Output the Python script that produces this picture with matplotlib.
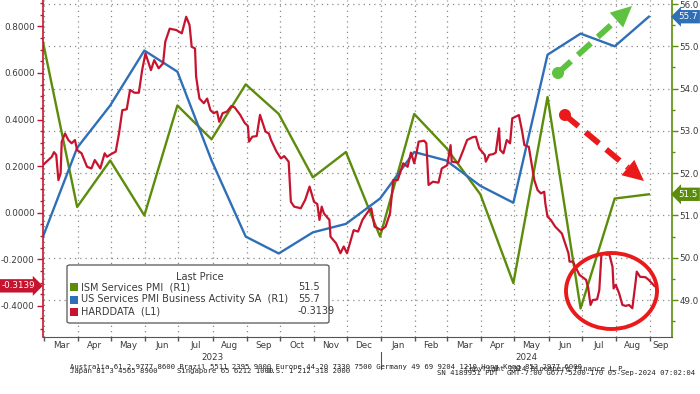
import matplotlib
matplotlib.use("Agg")
import matplotlib.pyplot as plt
import matplotlib.dates as mdates
import matplotlib.ticker as mticker
from matplotlib.patches import Ellipse, Polygon, FancyBboxPatch, Rectangle
from matplotlib.lines import Line2D
import numpy as np
import pandas as pd

plt.rcParams['font.family'] = ['DejaVu Sans']

# ---------------- data ----------------
pmi_dates = ['2023-02-28', '2023-03-31', '2023-04-30', '2023-05-31', '2023-06-30',
             '2023-07-31', '2023-08-31', '2023-09-30', '2023-10-31', '2023-11-30',
             '2023-12-31', '2024-01-31', '2024-02-29', '2024-03-31', '2024-04-30',
             '2024-05-31', '2024-06-30', '2024-07-31', '2024-08-31']
ism_services_pmi = [55.1, 51.2, 52.3, 51.0, 53.6, 52.8, 54.1, 53.4, 51.9, 52.5,
                    50.5, 53.4, 52.6, 51.5, 49.4, 53.8, 48.8, 51.4, 51.5]
us_services_pmi = [50.5, 52.6, 53.6, 54.9, 54.4, 52.3, 50.5, 50.1, 50.6, 50.8,
                   51.4, 52.5, 52.3, 51.7, 51.3, 54.8, 55.3, 55.0, 55.7]

harddata_dates = [
    '2023-02-28', '2023-03-08', '2023-03-10', '2023-03-12', '2023-03-14', '2023-03-16',
    '2023-03-17', '2023-03-20', '2023-03-23', '2023-03-26', '2023-03-29', '2023-03-31',
    '2023-04-04', '2023-04-09', '2023-04-13', '2023-04-16', '2023-04-21', '2023-04-25',
    '2023-04-27', '2023-05-01', '2023-05-05', '2023-05-08', '2023-05-11', '2023-05-15',
    '2023-05-18', '2023-05-22', '2023-05-26', '2023-05-29', '2023-06-01', '2023-06-06',
    '2023-06-09', '2023-06-13', '2023-06-17', '2023-06-19', '2023-06-23', '2023-06-29',
    '2023-07-04', '2023-07-08', '2023-07-11', '2023-07-13', '2023-07-16', '2023-07-17',
    '2023-07-20', '2023-07-24', '2023-07-27', '2023-07-30', '2023-08-02', '2023-08-05',
    '2023-08-07', '2023-08-10', '2023-08-14', '2023-08-18', '2023-08-21', '2023-08-26',
    '2023-08-30', '2023-09-02', '2023-09-03', '2023-09-06', '2023-09-10', '2023-09-13',
    '2023-09-18', '2023-09-21', '2023-09-23', '2023-09-28', '2023-10-02', '2023-10-05',
    '2023-10-09', '2023-10-11', '2023-10-14', '2023-10-20', '2023-10-24', '2023-10-28',
    '2023-11-01', '2023-11-04', '2023-11-06', '2023-11-08', '2023-11-10', '2023-11-15',
    '2023-11-16', '2023-11-21', '2023-11-25', '2023-11-28', '2023-12-01', '2023-12-07',
    '2023-12-11', '2023-12-15', '2023-12-20', '2023-12-23', '2023-12-26', '2024-01-01',
    '2024-01-05', '2024-01-09', '2024-01-12', '2024-01-16', '2024-01-21', '2024-01-25',
    '2024-01-28', '2024-01-31', '2024-02-02', '2024-02-04', '2024-02-09', '2024-02-11',
    '2024-02-13', '2024-02-17', '2024-02-22', '2024-02-25', '2024-03-01', '2024-03-04',
    '2024-03-05', '2024-03-11', '2024-03-15', '2024-03-19', '2024-03-24', '2024-03-27',
    '2024-03-30', '2024-04-04', '2024-04-05', '2024-04-08', '2024-04-12', '2024-04-14',
    '2024-04-17', '2024-04-18', '2024-04-21', '2024-04-24', '2024-04-27', '2024-04-29',
    '2024-05-02', '2024-05-05', '2024-05-08', '2024-05-10', '2024-05-14', '2024-05-17',
    '2024-05-19', '2024-05-22', '2024-05-25', '2024-05-28', '2024-05-29', '2024-05-31',
    '2024-06-03', '2024-06-07', '2024-06-13', '2024-06-16', '2024-06-19', '2024-06-20',
    '2024-06-23', '2024-06-29', '2024-07-05', '2024-07-07', '2024-07-09', '2024-07-11',
    '2024-07-15', '2024-07-17', '2024-07-19', '2024-07-21', '2024-07-24', '2024-07-26',
    '2024-07-29', '2024-07-30', '2024-08-01', '2024-08-04', '2024-08-07', '2024-08-10',
    '2024-08-13', '2024-08-16', '2024-08-19', '2024-08-20', '2024-08-23', '2024-08-28',
    '2024-08-31', '2024-09-05']
harddata_values = [
    0.205, 0.240, 0.260, 0.248, 0.140, 0.169,
    0.305, 0.340, 0.312, 0.298, 0.312, 0.269,
    0.255, 0.197, 0.190, 0.226, 0.190, 0.255,
    0.240, 0.252, 0.262, 0.340, 0.440, 0.444,
    0.527, 0.515, 0.515, 0.612, 0.684, 0.612,
    0.655, 0.620, 0.641, 0.734, 0.790, 0.784,
    0.770, 0.841, 0.806, 0.712, 0.705, 0.584,
    0.490, 0.470, 0.490, 0.440, 0.427, 0.434,
    0.390, 0.427, 0.434, 0.458, 0.452, 0.420,
    0.386, 0.372, 0.305, 0.326, 0.329, 0.420,
    0.348, 0.340, 0.312, 0.262, 0.233, 0.243,
    0.219, 0.047, 0.026, 0.019, 0.055, 0.112,
    0.047, 0.037, -0.031, 0.026, -0.003, -0.031,
    -0.103, -0.131, -0.174, -0.145, -0.174, -0.075,
    -0.081, -0.031, 0.004, 0.019, -0.060, -0.074,
    -0.060, -0.003, 0.140, 0.140, 0.212, 0.197,
    0.258, 0.212, 0.255, 0.305, 0.309, 0.298,
    0.119, 0.133, 0.129, 0.190, 0.204, 0.290,
    0.219, 0.215, 0.262, 0.312, 0.324, 0.326,
    0.276, 0.248, 0.219, 0.248, 0.252, 0.258,
    0.362, 0.269, 0.255, 0.312, 0.298, 0.405,
    0.412, 0.419, 0.348, 0.290, 0.283, 0.197,
    0.140, 0.097, 0.083, 0.090, 0.040, -0.017,
    -0.031, -0.060, -0.089, -0.131, -0.174, -0.210,
    -0.210, -0.267, -0.288, -0.325, -0.396, -0.375,
    -0.372, -0.332, -0.174, -0.174, -0.181, -0.177,
    -0.232, -0.325, -0.310, -0.346, -0.396, -0.400,
    -0.396, -0.410, -0.296, -0.253, -0.275, -0.277,
    -0.289, -0.3139]

series_labels = ['ISM Services PMI  (R1)',
                 'US Services PMI Business Activity SA  (R1)',
                 'HARDDATA  (L1)']
left_ticks = [-0.4, -0.2, 0.0, 0.2, 0.4, 0.6, 0.8]
right_ticks = [49.0, 50.0, 51.0, 52.0, 53.0, 54.0, 55.0, 56.0]
month_names = ['Mar', 'Apr', 'May', 'Jun', 'Jul', 'Aug', 'Sep', 'Oct', 'Nov', 'Dec',
               'Jan', 'Feb', 'Mar', 'Apr', 'May', 'Jun', 'Jul', 'Aug', 'Sep']
year_labels = ['2023', '2024']

# ---------------- style ----------------
GREEN = '#5b8c0a'
BLUE = '#2f6fb7'
RED = '#c6142f'
ARROW_GREEN = '#5cc23f'
ARROW_RED = '#ea1a1a'
TXT = '#3a3a3a'
TICK_FS = 6.3

W, H = 700, 394
fig = plt.figure(figsize=(W / 100, H / 100), dpi=100)
fig.patch.set_facecolor('white')


def fx(px):
    return px / W


def fy(py):
    return 1 - py / H


x0, x1, ytop, ybot = 43, 672, 0, 337
axR = fig.add_axes([fx(x0), fy(ybot), fx(x1) - fx(x0), fy(ytop) - fy(ybot)])
axL = axR.twinx()

xmin, xmax = pd.Timestamp('2023-02-28'), pd.Timestamp('2024-09-21')
axR.set_xlim(xmin, xmax)
axR.set_ylim(48.125, 56.095)
axL.set_ylim(-0.5335, 0.913)

axR.set_zorder(1)
axL.set_zorder(2)
axL.patch.set_visible(False)

pdates = pd.to_datetime(pmi_dates)
axR.plot(pdates, ism_services_pmi, color=GREEN, lw=1.7, zorder=3)
axR.plot(pdates, us_services_pmi, color=BLUE, lw=1.7, zorder=3)
axL.plot(pd.to_datetime(harddata_dates), harddata_values, color=RED, lw=1.6, zorder=3)

# right axis
axR.yaxis.tick_right()
axR.set_yticks(right_ticks)
axR.yaxis.set_minor_locator(mticker.MultipleLocator(0.5))
axR.yaxis.set_major_formatter(mticker.FuncFormatter(lambda v, p: f'{v:.1f}'))
axR.tick_params(axis='y', which='major', colors=GREEN, labelcolor=TXT, length=4,
                width=1, labelsize=TICK_FS, pad=1.5)
axR.tick_params(axis='y', which='minor', colors=GREEN, length=2, width=1)

# left axis
axL.yaxis.tick_left()
axL.set_yticks(left_ticks)
axL.yaxis.set_minor_locator(mticker.MultipleLocator(0.05))
axL.yaxis.set_major_formatter(mticker.FuncFormatter(lambda v, p: f'{v:.4f}'))
axL.tick_params(axis='y', which='major', colors=RED, labelcolor=TXT, length=4,
                width=1, labelsize=TICK_FS, pad=2)
axL.tick_params(axis='y', which='minor', colors=RED, length=2, width=1)

# spines
for s in ['top', 'left']:
    axR.spines[s].set_visible(False)
axR.spines['right'].set_color(GREEN)
axR.spines['right'].set_linewidth(1.2)
axR.spines['bottom'].set_color('#555555')
for s in ['top', 'right', 'bottom']:
    axL.spines[s].set_visible(False)
axL.spines['left'].set_color(RED)
axL.spines['left'].set_linewidth(1.2)

# x axis: month boundaries as major ticks/grid, labels centred in visible month
axR.xaxis.set_major_locator(mdates.MonthLocator())
axR.xaxis.set_major_formatter(mticker.NullFormatter())
starts = pd.date_range('2023-03-01', '2024-09-01', freq='MS')
mids = []
for s in starts:
    e = s + pd.offsets.MonthBegin(1)
    a, b = max(s, xmin), min(e, xmax)
    mids.append(a + (b - a) / 2)
axR.set_xticks(mids, minor=True)
axR.set_xticklabels(month_names, minor=True)
axR.tick_params(axis='x', which='minor', length=0, labelsize=TICK_FS, labelcolor=TXT, pad=3)
axR.tick_params(axis='x', which='major', length=3, color='#555555', width=1)

axR.grid(True, which='major', axis='both', color='#8a8a8a', linestyle=(0, (1, 3.2)), lw=0.9)

# year labels
for yl, (a, b) in zip(year_labels, [(xmin, pd.Timestamp('2024-01-01')),
                                    (pd.Timestamp('2024-01-01'), xmax)]):
    axR.text(a + (b - a) / 2, -0.062, yl, transform=axR.get_xaxis_transform(),
             ha='center', va='center', fontsize=TICK_FS, color=TXT)
sep_x = mdates.date2num(pd.Timestamp('2024-01-01'))
axR.plot([sep_x, sep_x], [-0.045, -0.095], transform=axR.get_xaxis_transform(),
         color='#555555', lw=0.8, clip_on=False)

# last-value badges
axL.annotate(f'{harddata_values[-1]:.4f}', xy=(0, harddata_values[-1]),
             xycoords=('axes fraction', 'data'), xytext=(-17.5, 0),
             textcoords='offset points', ha='center', va='center', fontsize=TICK_FS,
             color='white', annotation_clip=False,
             bbox=dict(boxstyle='rarrow,pad=0.25', fc=RED, ec='none'))
for val, col in [(us_services_pmi[-1], BLUE), (ism_services_pmi[-1], GREEN)]:
    axR.annotate(f'{val:.1f}', xy=(1, val), xycoords=('axes fraction', 'data'),
                 xytext=(11.5, 0), textcoords='offset points', ha='center', va='center',
                 fontsize=TICK_FS, color='white', annotation_clip=False,
                 bbox=dict(boxstyle='larrow,pad=0.25', fc=col, ec='none'))

# legend (manual, Bloomberg style)
lg_l, lg_t, lg_r, lg_b = 67, 265, 329, 323
fig.add_artist(FancyBboxPatch((fx(lg_l), fy(lg_b)), fx(lg_r) - fx(lg_l), fy(lg_t) - fy(lg_b),
                              boxstyle='round,pad=0,rounding_size=0.004',
                              transform=fig.transFigure, fc='white', ec='#555555',
                              lw=0.9, zorder=5))
fig.text(fx(200), fy(276.5), 'Last Price', ha='center', va='center', fontsize=7.0,
         color=TXT, zorder=6)
row_y = [287, 299.5, 311.5]
row_cols = [GREEN, BLUE, RED]
row_vals = [f'{ism_services_pmi[-1]:.1f}', f'{us_services_pmi[-1]:.1f}',
            f'{harddata_values[-1]:.4f}']
for yy, col, lab, v in zip(row_y, row_cols, series_labels, row_vals):
    fig.add_artist(Rectangle((fx(70), fy(yy + 4)), 8 / W, 8 / H, transform=fig.transFigure,
                             fc=col, ec='none', zorder=6))
    fig.text(fx(81), fy(yy), lab, ha='left', va='center', fontsize=7.0, color=TXT, zorder=6)
    fig.text(fx(298), fy(yy), v, ha='left', va='center', fontsize=7.0, color=TXT, zorder=6)


# annotations: dashed arrows and ellipse (figure pixel positions)
def dashed_arrow(p0, p1, color):
    p0 = np.array(p0, float)
    p1 = np.array(p1, float)
    d = p1 - p0
    u = d / np.hypot(*d)
    n = np.array([-u[1], u[0]])
    head_len, head_w = 21, 10
    base = p1 - u * head_len
    fig.add_artist(Line2D([fx(p0[0]), fx(base[0])], [fy(p0[1]), fy(base[1])],
                          transform=fig.transFigure, color=color, lw=4.2,
                          linestyle=(0, (3.0, 1.6)), dash_capstyle='butt', zorder=7))
    fig.add_artist(Ellipse((fx(p0[0]), fy(p0[1])), 12 / W, 12 / H,
                           transform=fig.transFigure, fc=color, ec='none', zorder=7))
    tri = [p1, base + n * head_w, base - n * head_w]
    fig.add_artist(Polygon([(fx(a), fy(b)) for a, b in tri], closed=True,
                           transform=fig.transFigure, fc=color, ec='none', zorder=7))


dashed_arrow((558, 73), (632, 6), ARROW_GREEN)
dashed_arrow((565, 115), (644, 181), ARROW_RED)

fig.add_artist(Ellipse((fx(611.5), fy(291)), 91 / W, 76 / H, transform=fig.transFigure,
                       fill=False, ec=ARROW_RED, lw=2.8, zorder=7))

# footer
mono = dict(family='DejaVu Sans Mono', fontsize=5.2, color='#222222', va='center', ha='left')
fig.text(fx(70), fy(367), 'Australia 61 2 9777 8600 Brazil 5511 2395 9000 Europe 44 20 7330 7500 '
         'Germany 49 69 9204 1210 Hong Kong 852 2977 6000', **mono)
fig.text(fx(70), fy(371), 'Japan 81 3 4565 8900', **mono)
fig.text(fx(177), fy(371), 'Singapore 65 6212 1000', **mono)
fig.text(fx(267), fy(371), 'U.S. 1 212 318 2000', **mono)
fig.text(fx(465), fy(369), 'Copyright 2024 Bloomberg Finance L.P.', **mono)
fig.text(fx(695), fy(373), 'SN 4189951 PDT  GMT-7:00 G677-5200-170 05-Sep-2024 07:02:04',
         **dict(mono, ha='right'))

fig.savefig('out.png', dpi=100, facecolor='white')
